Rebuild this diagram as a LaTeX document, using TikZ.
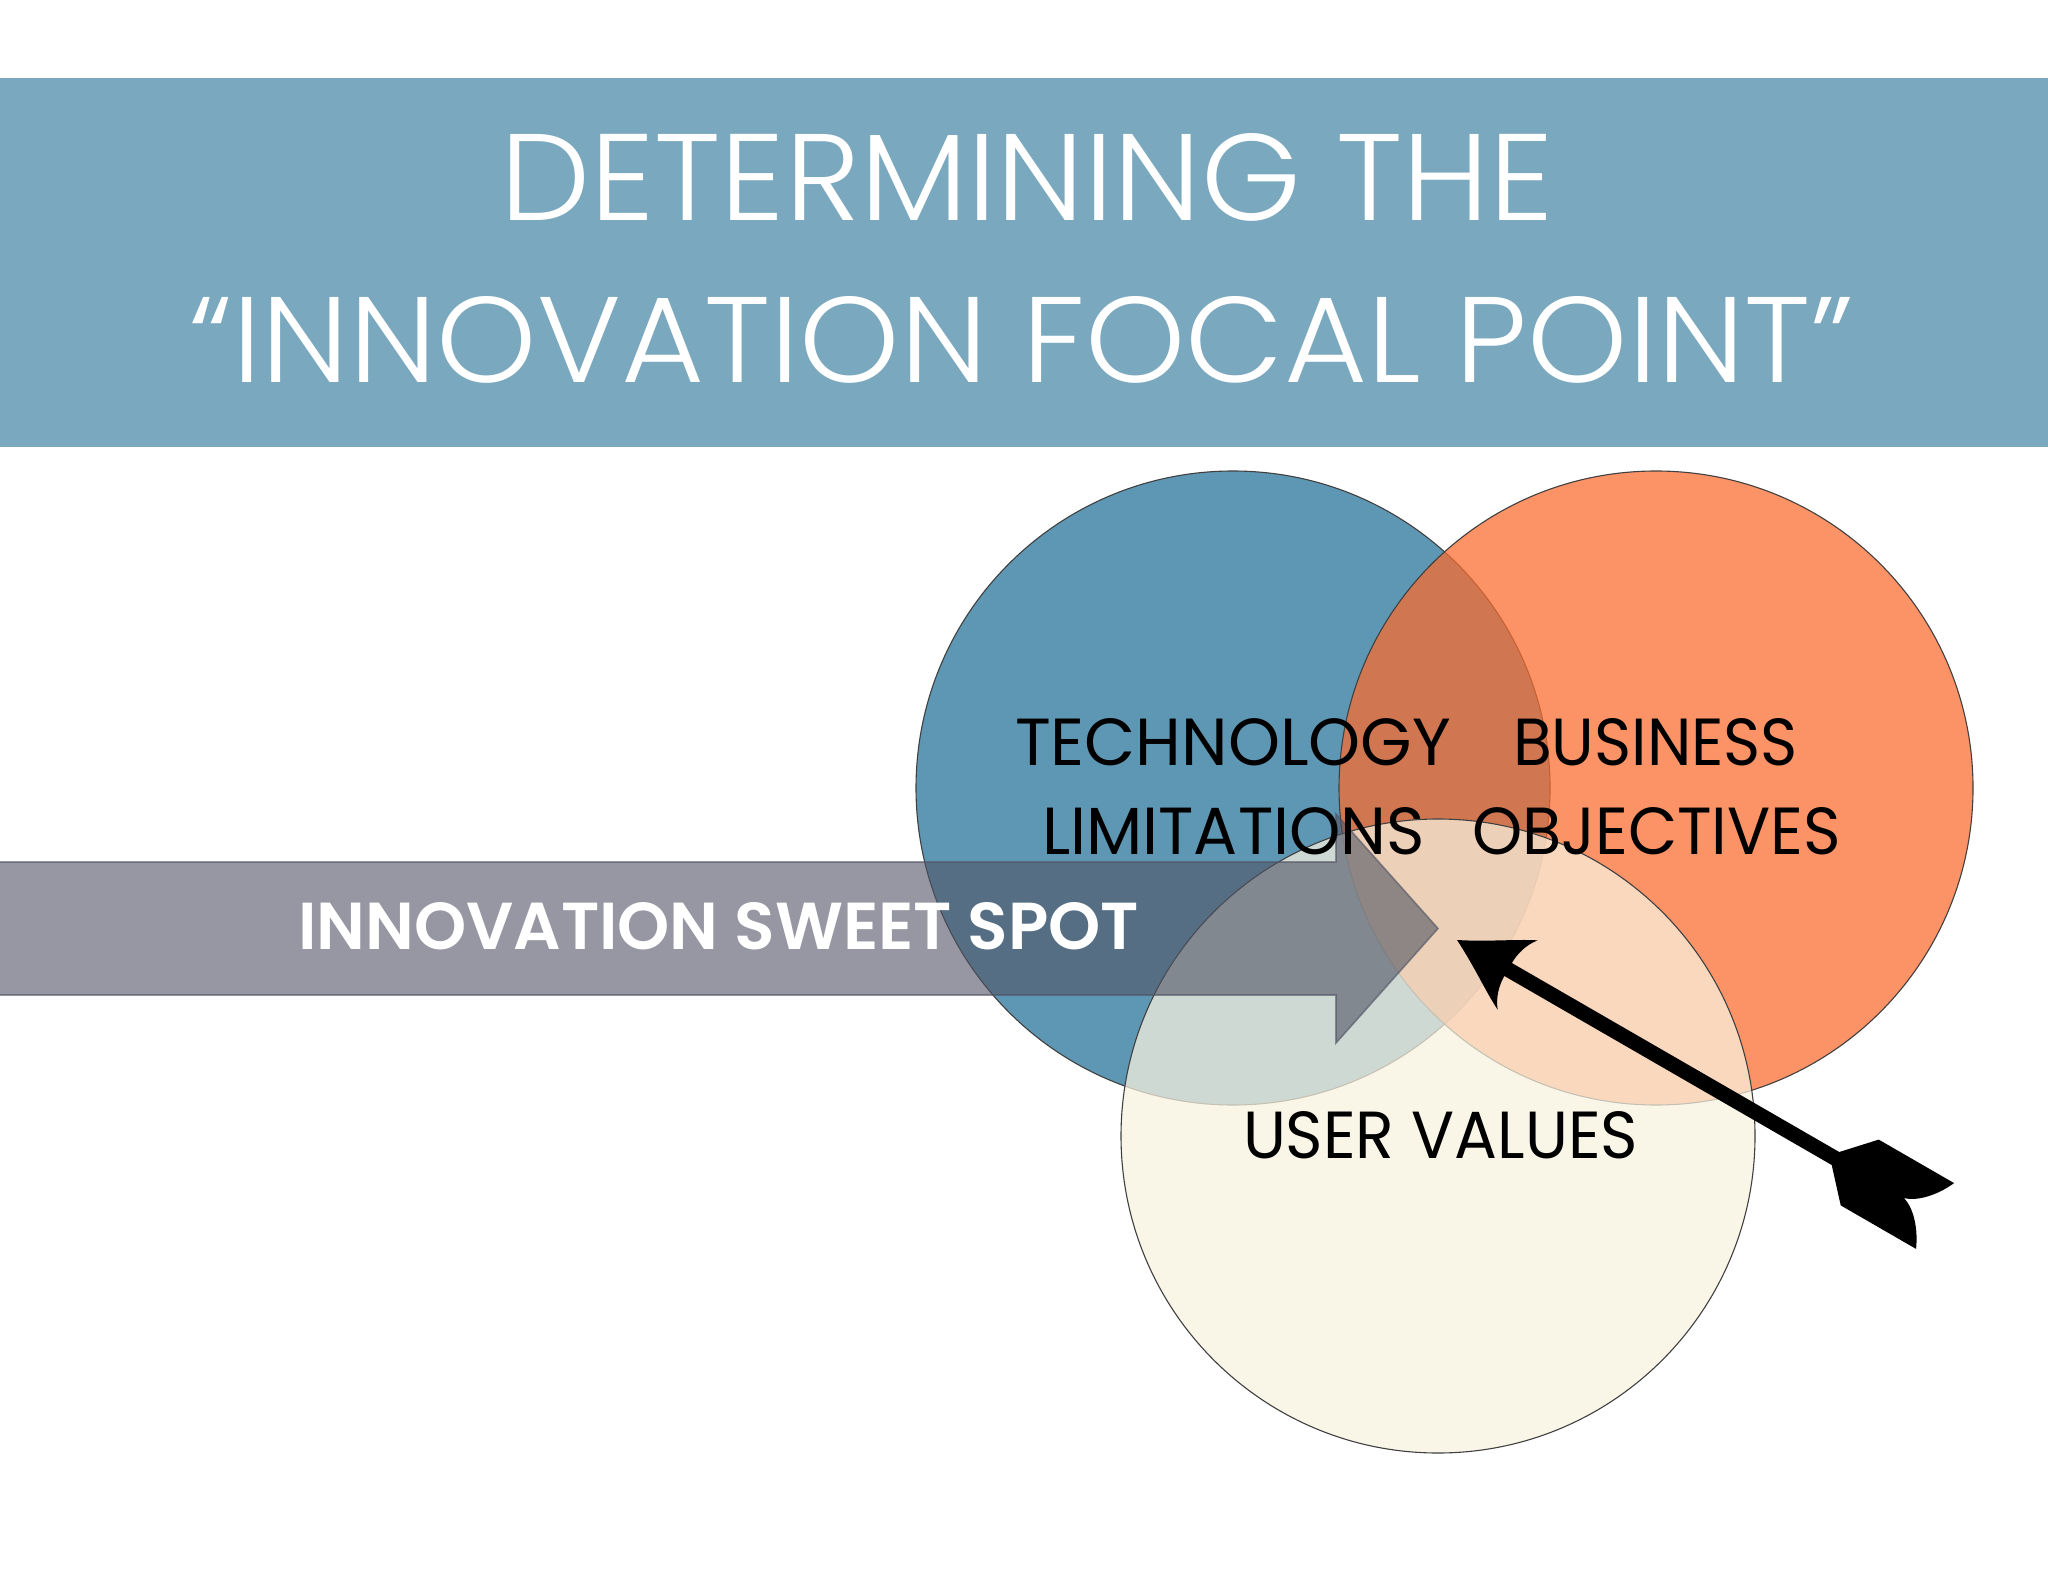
\documentclass[tikz,border=0pt]{standalone}
\usepackage{fontspec}
\usepackage{graphicx}
\IfFontExistsTF{Poppins Light}{\newfontfamily\titlefont{Poppins Light}}{\newfontfamily\titlefont{Poppins}}
\newfontfamily\labelfont{Poppins}
\IfFontExistsTF{Poppins SemiBold}{\newfontfamily\spotfont{Poppins SemiBold}}{\IfFontExistsTF{Poppins Bold}{\newfontfamily\spotfont{Poppins Bold}}{\newfontfamily\spotfont{Poppins}}}
\newlength\pxu
\setlength\pxu{0.5pt}
\newcommand\fitpx[3]{\resizebox{#1\pxu}{#2\pxu}{#3}}
\definecolor{bandblue}{RGB}{122,168,190}
\definecolor{techblue}{RGB}{94,151,180}
\definecolor{bizorange}{RGB}{251,108,47}
\definecolor{usercream}{RGB}{248,242,223}
\definecolor{spotgray}{RGB}{80,83,100}
\begin{document}
\begin{tikzpicture}[x=0.5pt,y=-0.5pt,
  circ/.style={draw=black!75, line width=0.55pt},
  lbl/.style={anchor=base west, inner sep=0pt, outer sep=0pt, text=black}]
\useasboundingbox (0,0) rectangle (2048,1582);
\fill[white] (0,0) rectangle (2048,1582);
% title band
\fill[bandblue] (0,78) rectangle (2048,447);
\node[lbl,text=white] (t1) at (500,221) {\fitpx{1053}{87}{\titlefont DETERMINING THE}};
\node[lbl,text=white] (t2) at (189,383) {\fitpx{1665}{86}{\titlefont \smash{“}INNOVATION FOCAL POINT\smash{”}}};
% circles
\path[circ, fill=techblue] (1233,788) circle[radius=158.5pt];
\path[circ, fill=bizorange, fill opacity=0.73] (1656,788) circle[radius=158.5pt];
\path[circ, fill=usercream, fill opacity=0.73] (1438,1136) circle[radius=158.5pt];
% sweet spot band arrow
\path[fill=spotgray, fill opacity=0.6, draw=spotgray, draw opacity=0.6, line width=0.8pt]
  (-5,862) -- (1336,862) -- (1336,814) -- (1438,928.5) -- (1336,1043) -- (1336,995) -- (-5,995) -- cycle;
\node[lbl,text=white] (spot) at (298,949) {\fitpx{841}{47}{\spotfont INNOVATION SWEET SPOT}};
% labels
\node[lbl] (tech) at (1015,765) {\fitpx{436}{47}{\labelfont TECHNOLOGY}};
\node[lbl] (biz) at (1513,765) {\fitpx{285}{47}{\labelfont BUSINESS}};
\node[lbl] (lim) at (1042,854) {\fitpx{383}{47}{\labelfont LIMITATIONS}};
\node[lbl] (obj) at (1472,854) {\fitpx{369}{47}{\labelfont OBJECTIVES}};
\node[lbl] (user) at (1243,1158) {\fitpx{395}{47}{\labelfont USER VALUES}};
% black arrow
\begin{scope}[shift={(1457,940)}, rotate=-30]
\fill[black] (0,0) .. controls (28,-14) and (50,-30) .. (70,-40)
  .. controls (62,-30) and (59,-18) .. (59,-7.5)
  -- (437,-7.5) -- (465,-38) -- (552,-38)
  .. controls (544,-20) and (530,-4) .. (516,0)
  .. controls (530,4) and (544,20) .. (552,38)
  -- (465,38) -- (437,7.5) -- (59,7.5)
  .. controls (59,18) and (62,30) .. (70,40)
  .. controls (50,30) and (28,14) .. (0,0) -- cycle;
\end{scope}
\end{tikzpicture}
\end{document}
